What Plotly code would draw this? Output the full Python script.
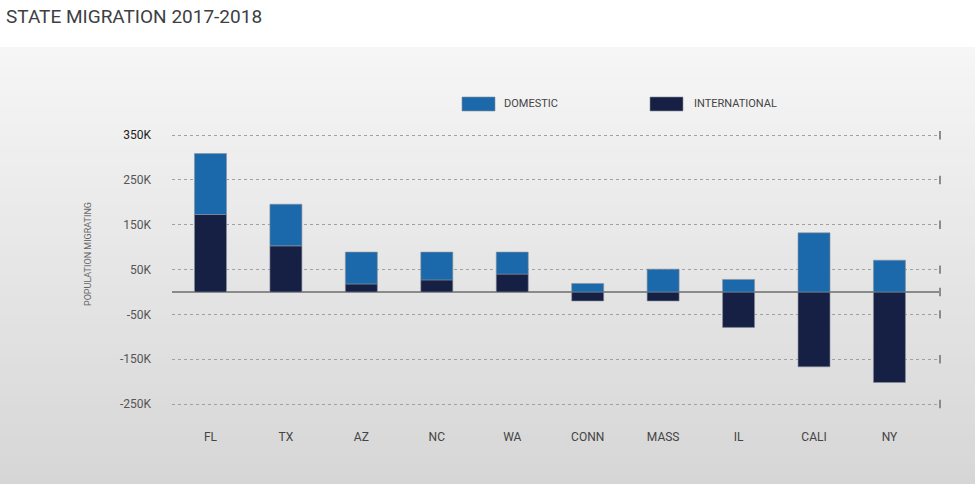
import plotly.graph_objects as go

states = ["FL", "TX", "AZ", "NC", "WA", "CONN", "MASS", "IL", "CALI", "NY"]
domestic = [136000, 93000, 71000, 62000, 49000, 19000, 51000, 28000, 132000, 71000]
international = [173000, 103000, 18000, 27000, 40000, -20000, -20000, -79000, -167000, -202000]
tick_vals = [350000, 250000, 150000, 50000, -50000, -150000, -250000]
tick_text = ["350K", "250K", "150K", "50K", "-50K", "-150K", "-250K"]

W, H = 975, 484
L, R, T, B = 172, 35, 126, 64
PW, PH = W - L - R, H - T - B

def px(x):
    return (x - L) / PW

def py(y):
    return (H - B - y) / PH

FONT = "Roboto, Liberation Sans Narrow, sans-serif"
DOM_C = "#1b69aa"
INT_C = "#152044"

fig = go.Figure()
fig.add_trace(go.Bar(x=states, y=international, name="INTERNATIONAL",
                     marker=dict(color=INT_C, line=dict(color="#8a8f99", width=0.6)),
                     width=0.424))
fig.add_trace(go.Bar(x=states, y=domestic, name="DOMESTIC",
                     marker=dict(color=DOM_C, line=dict(color="#8a8f99", width=0.6)),
                     width=0.424))
# small end markers on the right of each gridline
fig.add_trace(go.Scatter(x=[1] * (len(tick_vals) + 1), y=tick_vals + [0], xaxis="x2",
                         mode="markers", cliponaxis=False, hoverinfo="skip",
                         marker=dict(symbol="line-ns", size=6,
                                     line=dict(color="#8c8c8c", width=2))))

shapes = []
# background gradient strips (overlapping to avoid seams)
y0, y1 = 47, H
n = 44
c_top, c_bot = (246, 246, 246), (214, 214, 214)
step = (y1 - y0) / n
for i in range(n):
    a = y0 + step * i
    b = min(y1, a + step + 2)
    t = (i + 0.5) / n
    c = tuple(int(round(c_top[k] + (c_bot[k] - c_top[k]) * t)) for k in range(3))
    shapes.append(dict(type="rect", xref="paper", yref="paper", layer="below",
                       x0=px(-2), x1=px(W + 2), y0=py(b), y1=py(a),
                       fillcolor="rgb(%d,%d,%d)" % c, line=dict(width=0)))
# legend swatches
shapes.append(dict(type="rect", xref="paper", yref="paper", x0=px(462), x1=px(495),
                   y0=py(111), y1=py(97), fillcolor=DOM_C, line=dict(color="#8a8f99", width=0.6)))
shapes.append(dict(type="rect", xref="paper", yref="paper", x0=px(650), x1=px(683),
                   y0=py(111), y1=py(97), fillcolor=INT_C, line=dict(color="#8a8f99", width=0.6)))

annotations = [
    dict(text="STATE MIGRATION 2017-2018", xref="paper", yref="paper", x=px(4), y=py(17),
         xanchor="left", yanchor="middle", showarrow=False,
         font=dict(family=FONT, size=19, color="#3d3f44")),
    dict(text="DOMESTIC", xref="paper", yref="paper", x=px(502), y=py(104),
         xanchor="left", yanchor="middle", showarrow=False,
         font=dict(family=FONT, size=11, color="#444")),
    dict(text="INTERNATIONAL", xref="paper", yref="paper", x=px(692), y=py(104),
         xanchor="left", yanchor="middle", showarrow=False,
         font=dict(family=FONT, size=11, color="#444")),
    dict(text="POPULATION MIGRATING", xref="paper", yref="paper", x=px(88), y=py(254),
         xanchor="center", yanchor="middle", showarrow=False, textangle=-90,
         font=dict(family=FONT, size=9, color="#666")),
]

tick_text_fmt = ['<span style="color:#222">%s</span>' % tick_text[0]] + tick_text[1:]

fig.update_layout(
    width=W, height=H,
    margin=dict(l=L, r=R, t=T, b=B),
    paper_bgcolor="white", plot_bgcolor="rgba(0,0,0,0)",
    barmode="relative", showlegend=False,
    shapes=shapes, annotations=annotations,
    xaxis=dict(range=[-0.51, 9.67], showgrid=False, zeroline=False, showline=False,
               ticks="", ticklabelstandoff=8,
               tickfont=dict(family=FONT, size=12, color="#444")),
    xaxis2=dict(range=[0, 1], overlaying="x", visible=False),
    yaxis=dict(range=[-285700, 370500], tickvals=tick_vals, ticktext=tick_text_fmt,
               showgrid=True, gridcolor="#a0a0a0", griddash="dot", gridwidth=1,
               zeroline=True, zerolinecolor="#8a8a8a", zerolinewidth=1.5,
               showline=False, ticks="", ticklabelstandoff=20,
               tickfont=dict(family=FONT, size=12, color="#555")),
)

fig.write_html("out.html", config={"displayModeBar": False},
               post_script="document.body.style.margin='0';document.body.style.padding='0';")
